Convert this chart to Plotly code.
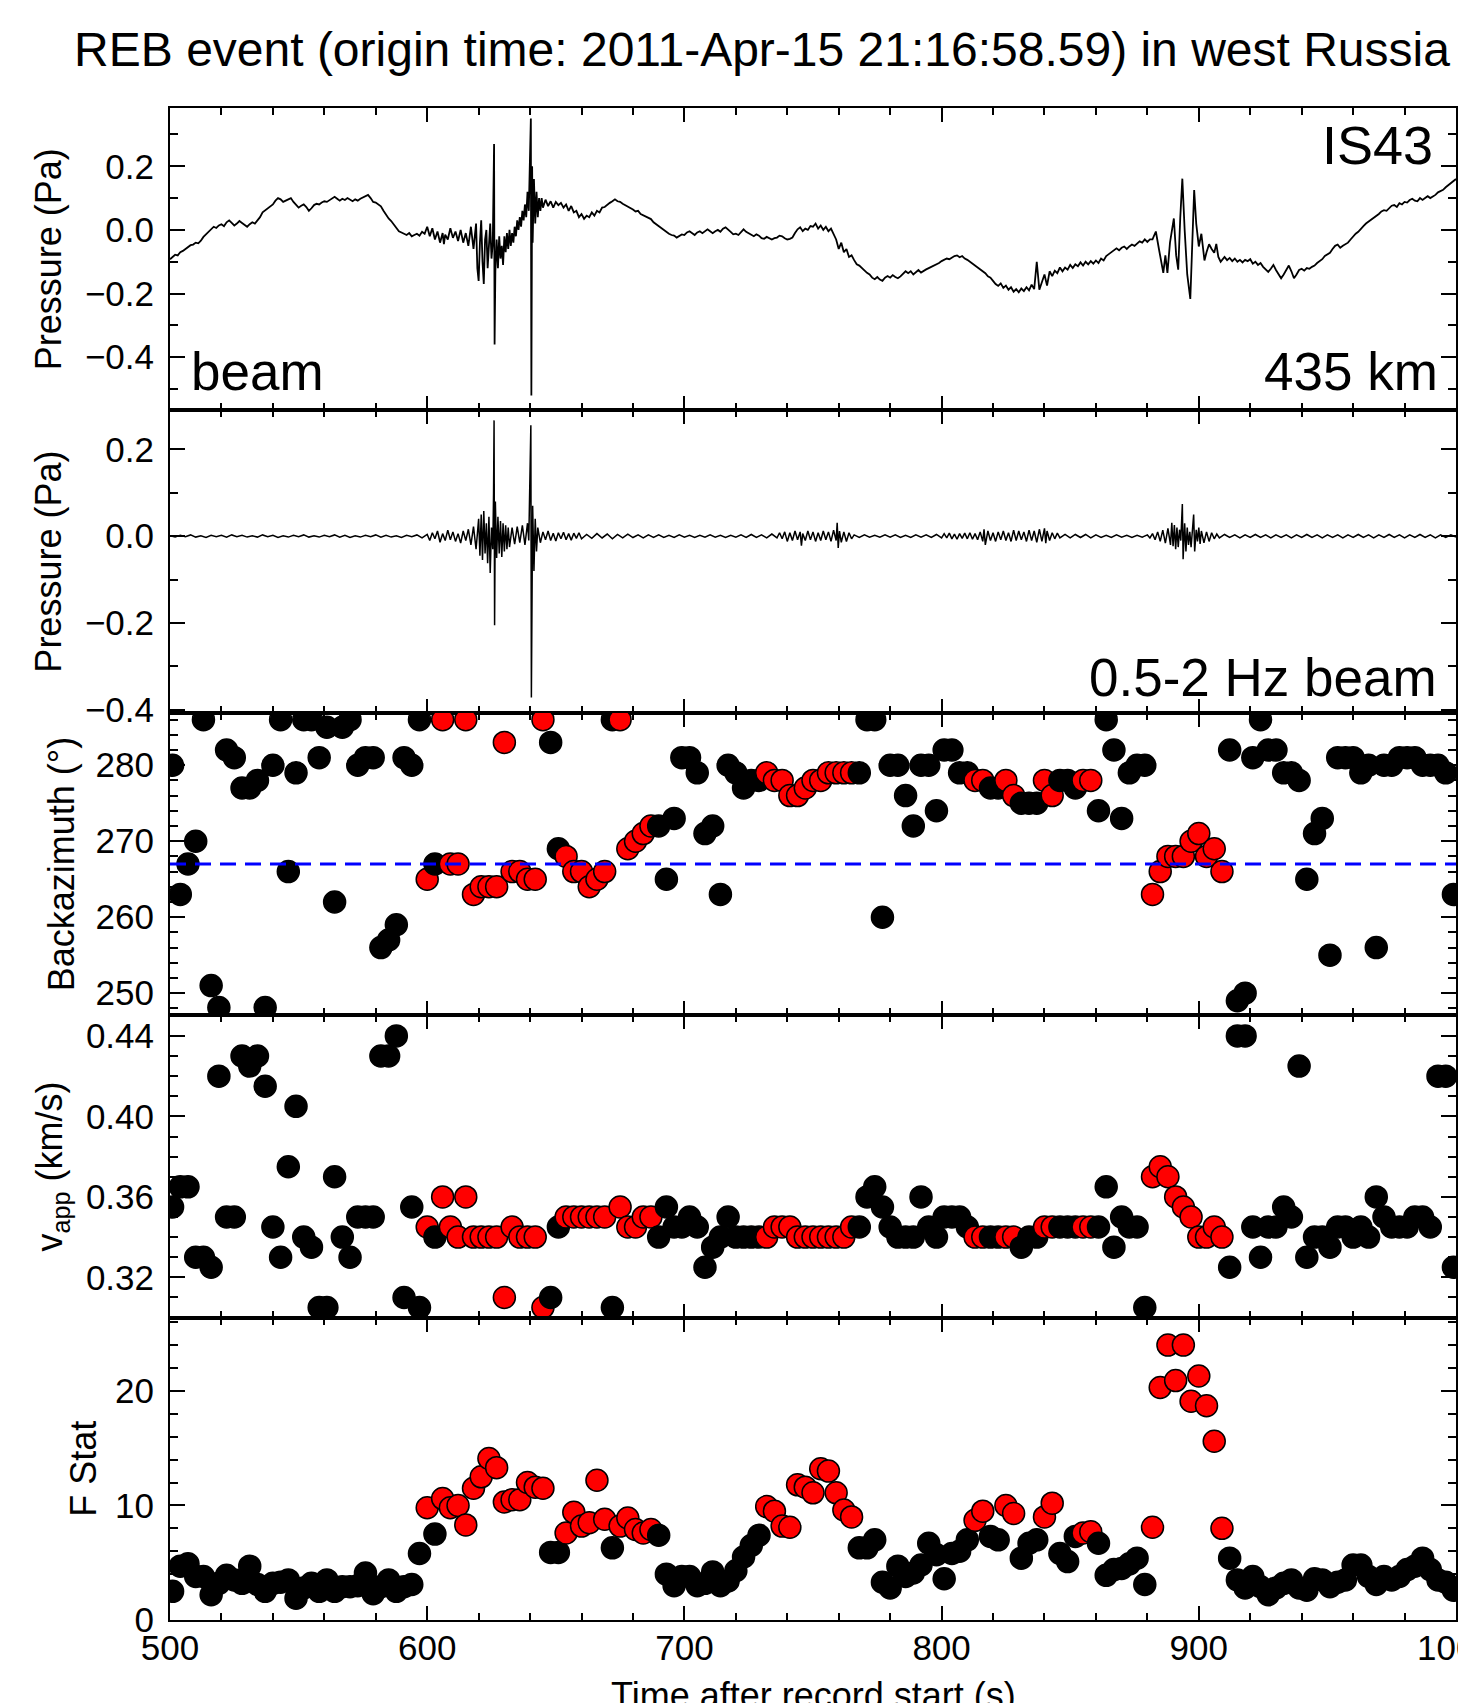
import plotly.graph_objects as go
from plotly.subplots import make_subplots

beam_t = [
    500, 501, 502, 503, 504, 505, 506, 507, 508, 509,
    510, 511, 512, 513, 514, 515, 516, 517, 518, 519,
    520, 521, 522, 523, 524, 525, 526, 527, 528, 529,
    530, 531, 532, 533, 534, 535, 536, 537, 538, 539,
    540, 541, 542, 543, 544, 545, 546, 547, 548, 549,
    550, 551, 552, 553, 554, 555, 556, 557, 558, 559,
    560, 561, 562, 563, 564, 565, 566, 567, 568, 569,
    570, 571, 572, 573, 574, 575, 576, 577, 578, 579,
    580, 581, 582, 583, 584, 585, 586, 587, 588, 589,
    590, 591, 592, 593, 594, 595, 596, 597, 598, 599, 600,
    601, 602, 603, 604, 605, 606, 606.5, 607, 608, 609, 610, 611, 612, 613,
    614, 615, 616, 617, 618, 619, 619.5, 620, 620.5, 621, 621.5, 622, 622.5,
    623, 623.5, 624, 624.5, 625, 625.5, 626, 626.2, 626.5, 627, 627.5, 628,
    628.5, 629, 629.5, 630, 630.5, 631, 631.5, 632, 632.5, 633, 633.5, 634,
    634.5, 635, 635.5, 636, 636.5, 637, 637.5, 638, 638.5, 639, 639.5, 640,
    640.3, 640.5, 640.8, 641, 641.5, 642, 642.5, 643, 643.5, 644, 644.5,
    645, 646, 647, 648, 649, 650, 651, 652, 653, 654,
    655, 656, 657, 658, 659, 660, 661, 662, 663, 664,
    665, 666, 667, 668, 669, 670, 671, 672, 673, 674,
    675, 676, 677, 678, 679, 680, 681, 682, 683, 684,
    685, 686, 687, 688, 689, 690, 691, 692, 693, 694,
    695, 696, 697, 698, 699, 700, 701, 702, 703, 704,
    705, 706, 707, 708, 709, 710, 711, 712, 713, 714,
    715, 716, 717, 718, 719,
    720, 721, 722, 723, 724, 725, 726, 727, 728, 729,
    730, 731, 732, 733, 734, 735, 736, 737, 738, 739,
    740, 741, 742, 743, 744, 745, 746, 747, 748, 749,
    750, 751, 752, 753, 754, 755, 756, 757, 758, 759,
    760, 761, 762, 763, 764, 765, 766, 767, 768, 769,
    770, 771, 772, 773, 774, 775, 776, 777, 778, 779,
    780, 781, 782, 783, 784, 785, 786, 787, 788, 789,
    790, 791, 792, 793, 794, 795, 796, 797, 798, 799,
    800, 801, 802, 803, 804, 805, 806, 807, 808, 809,
    810, 811, 812, 813, 814, 815, 816, 817, 818, 819,
    820, 821, 822, 823, 824, 825, 826, 827, 828, 829,
    830, 831, 832, 833, 834, 835, 836, 837, 838, 839,
    840, 841, 842, 843, 844, 845, 846, 847, 848, 849,
    850, 851, 852, 853, 854, 855, 856, 857, 858, 859,
    860, 861, 862, 863, 864, 865, 866, 867, 868, 869,
    870, 871, 872, 873, 874, 875, 876, 877, 878, 879,
    880, 881,
    882, 883.3, 884.5, 885.5, 886.2, 887, 887.8, 888.8, 889.6, 890.3, 891.2,
    892, 892.8, 893.6, 894.5, 895.5, 896.7, 897.5, 898.2, 899, 900, 901,
    902.2, 903, 904, 905, 906, 906.8, 907.6, 908.5, 909.5,
    910, 911, 912, 913, 914, 915, 916, 917, 918, 919,
    920, 921, 922, 923, 924, 925, 926, 927, 928, 929,
    930, 931, 932, 933, 934, 935, 936, 937, 938, 939,
    940, 941, 942, 943, 944, 945, 946, 947, 948, 949,
    950, 951, 952, 953, 954, 955, 956, 957, 958, 959,
    960, 961, 962, 963, 964, 965, 966, 967, 968, 969,
    970, 971, 972, 973, 974, 975, 976, 977, 978, 979,
    980, 981, 982, 983, 984, 985, 986, 987, 988, 989,
    990, 991, 992, 993, 994, 995, 996, 997, 998, 999, 1000,
]
beam_p = [
    -0.092, -0.085, -0.078, -0.080, -0.070, -0.066, -0.060, -0.052, -0.048, -0.046,
    -0.040, -0.042, -0.034, -0.022, -0.014, -0.004, 0.004, 0.010, 0.006, 0.014,
    0.018, 0.012, 0.024, 0.030, 0.022, 0.014, 0.020, 0.028, 0.022, 0.016,
    0.010, 0.018, 0.024, 0.020, 0.030, 0.040, 0.055, 0.062, 0.066, 0.074,
    0.080, 0.092, 0.100, 0.096, 0.088, 0.092, 0.096, 0.100, 0.088, 0.078,
    0.070, 0.076, 0.080, 0.072, 0.060, 0.068, 0.078, 0.082, 0.080, 0.086,
    0.090, 0.088, 0.094, 0.100, 0.104, 0.098, 0.092, 0.098, 0.094, 0.100,
    0.096, 0.090, 0.096, 0.092, 0.098, 0.102, 0.108, 0.110, 0.100, 0.088,
    0.086, 0.080, 0.074, 0.060, 0.046, 0.036, 0.028, 0.018, 0.008, -0.004,
    -0.008, -0.012, -0.016, -0.010, -0.020, -0.016, -0.012, -0.018, -0.006, -0.012, 0.010,
    -0.020, 0.005, -0.030, -0.005, -0.040, -0.010, -0.045, -0.015, -0.030, 0.005, -0.025, -0.005, -0.035, 0.000,
    -0.040, -0.010, -0.050, 0.010, -0.060, 0.020, -0.120, -0.160, -0.040, 0.030, -0.100, -0.170, -0.030,
    0.000, -0.120, -0.060, 0.020, -0.090, -0.040, 0.270, -0.360, -0.130, -0.030, -0.120, -0.020,
    -0.090, -0.050, -0.110, -0.020, -0.070, -0.010, -0.060, 0.000, -0.050, -0.010, -0.040, 0.010,
    -0.020, 0.030, 0.000, 0.040, 0.010, 0.060, 0.030, 0.080, 0.040, 0.120, 0.060, 0.210,
    0.350, -0.520, 0.200, -0.040, 0.160, 0.020, 0.120, 0.040, 0.100, 0.060, 0.100,
    0.070, 0.095, 0.075, 0.090, 0.070, 0.088, 0.078, 0.085, 0.070, 0.080,
    0.060, 0.075, 0.055, 0.060, 0.040, 0.050, 0.035, 0.045, 0.040, 0.055,
    0.045, 0.060, 0.055, 0.070, 0.072, 0.080, 0.085, 0.090, 0.096, 0.090,
    0.088, 0.082, 0.078, 0.072, 0.070, 0.064, 0.058, 0.060, 0.050, 0.046,
    0.040, 0.036, 0.034, 0.024, 0.018, 0.012, 0.006, -0.002, -0.006, -0.012,
    -0.016, -0.018, -0.024, -0.020, -0.014, -0.016, -0.008, -0.004, -0.010, -0.016,
    -0.008, -0.004, -0.010, -0.004, 0.002, -0.004, -0.010, -0.004, 0.000, -0.006,
    0.004, 0.008, 0.002, -0.006, -0.014,
    -0.012, -0.016, -0.008, 0.002, -0.006, -0.010, -0.016, -0.020, -0.014, -0.018,
    -0.026, -0.028, -0.022, -0.026, -0.030, -0.026, -0.024, -0.018, -0.020, -0.026,
    -0.030, -0.028, -0.024, -0.010, 0.002, 0.008, -0.004, 0.004, 0.000, 0.012,
    0.010, 0.020, 0.004, 0.014, 0.000, 0.010, -0.004, 0.004, -0.012, -0.030,
    -0.060, -0.040, -0.070, -0.060, -0.085, -0.080, -0.095, -0.108, -0.112, -0.120,
    -0.128, -0.135, -0.140, -0.150, -0.155, -0.148, -0.156, -0.160, -0.150, -0.145,
    -0.150, -0.142, -0.148, -0.152, -0.146, -0.138, -0.130, -0.136, -0.130, -0.140,
    -0.132, -0.126, -0.134, -0.128, -0.124, -0.120, -0.116, -0.114, -0.108, -0.104,
    -0.098, -0.094, -0.090, -0.092, -0.086, -0.082, -0.080, -0.086, -0.082, -0.090,
    -0.094, -0.100, -0.104, -0.110, -0.116, -0.124, -0.130, -0.136, -0.146, -0.150,
    -0.160, -0.170, -0.176, -0.168, -0.182, -0.175, -0.188, -0.180, -0.194, -0.186,
    -0.196, -0.184, -0.192, -0.180, -0.190, -0.172, -0.186, -0.100, -0.188, -0.160,
    -0.140, -0.175, -0.130, -0.145, -0.128, -0.136, -0.118, -0.130, -0.118, -0.125,
    -0.110, -0.120, -0.108, -0.114, -0.102, -0.112, -0.100, -0.108, -0.098, -0.106,
    -0.096, -0.104, -0.090, -0.096, -0.082, -0.076, -0.070, -0.064, -0.058, -0.064,
    -0.056, -0.052, -0.060, -0.052, -0.046, -0.050, -0.042, -0.036, -0.040, -0.030,
    -0.038, -0.030,
    -0.030, -0.005, -0.060, -0.100, -0.135, -0.080, -0.135, -0.040, 0.010, 0.036, -0.080,
    -0.125, 0.040, 0.161, 0.000, -0.140, -0.217, -0.030, 0.125, 0.020, -0.052, -0.012,
    -0.096, -0.070, -0.045, -0.060, -0.072, -0.044, -0.085, -0.100, -0.088,
    -0.085, -0.095, -0.088, -0.098, -0.090, -0.100, -0.094, -0.102, -0.094, -0.098,
    -0.092, -0.106, -0.100, -0.110, -0.104, -0.116, -0.124, -0.132, -0.122, -0.110,
    -0.126, -0.140, -0.152, -0.140, -0.124, -0.112, -0.130, -0.152, -0.140, -0.126,
    -0.122, -0.128, -0.120, -0.122, -0.116, -0.112, -0.104, -0.098, -0.092, -0.082,
    -0.076, -0.072, -0.060, -0.050, -0.046, -0.056, -0.050, -0.044, -0.040, -0.030,
    -0.020, -0.012, -0.006, 0.004, 0.012, 0.020, 0.026, 0.032, 0.038, 0.042,
    0.050, 0.058, 0.062, 0.060, 0.068, 0.076, 0.078, 0.072, 0.084, 0.080,
    0.088, 0.086, 0.094, 0.098, 0.092, 0.090, 0.100, 0.094, 0.100, 0.106,
    0.100, 0.104, 0.110, 0.118, 0.122, 0.126, 0.134, 0.140, 0.146, 0.152, 0.160,
]

# ---- second panel: 0.5-2 Hz filtered beam (Pa) ----
filt_t = [
    500, 502, 504, 506, 508, 510, 512, 514, 516, 518,
    520, 522, 524, 526, 528, 530, 532, 534, 536, 538,
    540, 542, 544, 546, 548, 550, 552, 554, 556, 558,
    560, 562, 564, 566, 568, 570, 572, 574, 576, 578,
    580, 582, 584, 586, 588, 590, 592, 594, 596, 598, 600,
    601, 602, 603, 604, 605, 606, 607, 608, 609, 610,
    611, 612, 613, 614, 615, 616, 617, 618, 619, 620,
    620.5, 621, 621.5, 622, 622.5, 623, 623.5, 624, 624.5, 625, 625.5, 625.8,
    626, 626.2, 626.5, 627, 627.5, 628, 628.5, 629, 629.5, 630, 630.5, 631,
    631.5, 632, 633, 634, 635, 636, 637, 638, 639, 639.5, 640, 640.3, 640.5,
    640.8, 641, 641.5, 642, 642.5, 643, 644,
    645, 646, 647, 648, 649, 650, 651, 652, 653, 654, 655, 656, 657, 658, 659, 660,
    662, 664, 666, 668, 670, 672, 674, 676, 678, 680,
    682, 684, 686, 688, 690, 692, 694, 696, 698, 700,
    702, 704, 706, 708, 710, 712, 714, 716, 718, 720,
    722, 724, 726, 728, 730, 732, 734, 736,
    737, 738, 739, 740, 741, 742, 743, 744, 745, 745.5,
    746, 747, 748, 749, 750, 751, 752, 753, 754, 755, 756, 757, 758, 759,
    759.4, 759.8, 760.3, 761, 762, 763, 764, 765,
    766, 768, 770, 772, 774, 776, 778, 780, 782, 784,
    786, 788, 790, 792, 794, 796, 798, 800,
    801, 802, 803, 804, 805, 806, 807, 808, 809, 810, 811, 812, 813, 814, 815, 816,
    816.5, 817, 818, 819, 820, 821, 822, 823, 824, 825, 826, 827, 828, 829,
    830, 831, 832, 833, 834, 835, 836, 837, 838, 839, 840, 840.5,
    841, 842, 843, 844, 845,
    846, 848, 850, 852, 854, 856, 858, 860, 862, 864,
    866, 868, 870, 872, 874, 876, 878, 880,
    881, 882, 883, 884, 885, 886, 887, 888, 889, 889.5, 890, 890.5, 891, 891.5,
    892, 892.5, 893, 893.6, 893.9, 894.5, 895, 895.5, 896, 896.5, 897, 897.5,
    898, 898.4, 899, 899.5, 900, 900.5, 901, 902, 903, 904, 905, 906, 907, 908, 910,
    912, 914, 916, 918, 920, 922, 924, 926, 928, 930,
    932, 934, 936, 938, 940, 942, 944, 946, 948, 950,
    952, 954, 956, 958, 960, 962, 964, 966, 968, 970,
    972, 974, 976, 978, 980, 982, 984, 986, 988, 990,
    992, 994, 996, 998, 1000,
]
filt_p = [
    0.001, -0.002, 0.002, -0.001, 0.003, -0.002, 0.001, -0.003, 0.002, -0.001,
    0.002, -0.002, 0.003, -0.001, 0.002, -0.002, 0.001, -0.002, 0.003, -0.001,
    0.002, -0.003, 0.001, -0.002, 0.002, -0.001, 0.003, -0.002, 0.001, -0.002,
    0.002, -0.001, 0.003, -0.002, 0.002, -0.003, 0.001, -0.002, 0.002, -0.001,
    0.003, -0.002, 0.002, -0.002, 0.001, -0.003, 0.002, -0.001, 0.003, -0.004, 0.004,
    -0.010, 0.008, -0.006, 0.012, -0.014, 0.006, -0.010, 0.014, -0.008, 0.010,
    -0.012, 0.006, -0.016, 0.012, -0.010, 0.016, -0.020, 0.022, -0.030, 0.040,
    -0.045, 0.050, -0.055, 0.058, -0.040, 0.030, -0.062, 0.045, -0.085, 0.020, -0.030, 0.100,
    0.267, -0.205, 0.080, -0.050, 0.045, -0.040, 0.035, -0.048, 0.030, -0.035, 0.025, -0.030,
    0.020, -0.025, 0.020, -0.018, 0.022, -0.015, 0.025, -0.020, 0.030, -0.010, 0.200, 0.256, -0.372,
    -0.020, 0.070, -0.080, 0.040, -0.035, 0.020, -0.015,
    0.010, -0.008, 0.012, -0.010, 0.007, -0.011, 0.008, -0.006, 0.009, -0.008, 0.006, -0.009, 0.007, -0.005, 0.008, -0.006,
    0.004, -0.005, 0.006, -0.004, 0.005, -0.006, 0.004, -0.004, 0.005, -0.003,
    0.003, -0.004, 0.003, -0.003, 0.003, -0.003, 0.002, -0.003, 0.003, -0.002,
    0.002, -0.003, 0.002, -0.002, 0.003, -0.002, 0.002, -0.003, 0.002, -0.002,
    0.003, -0.003, 0.004, -0.003, 0.003, -0.004, 0.005, -0.004,
    0.008, -0.006, 0.010, -0.012, 0.008, -0.010, 0.012, -0.008, 0.010, -0.022,
    0.006, -0.010, 0.012, -0.008, 0.010, -0.012, 0.008, -0.010, 0.012, -0.008, 0.010, -0.012, 0.014, -0.010,
    0.031, -0.027, 0.012, -0.014, 0.010, -0.012, 0.008, -0.006,
    0.003, -0.003, 0.003, -0.002, 0.002, -0.002, 0.003, -0.002, 0.003, -0.003,
    0.002, -0.003, 0.003, -0.002, 0.003, -0.003, 0.004, -0.004,
    0.006, -0.004, 0.007, -0.006, 0.005, -0.007, 0.006, -0.005, 0.007, -0.006, 0.008, -0.007, 0.006, -0.008, 0.010, -0.012,
    0.016, -0.020, 0.012, -0.010, 0.008, -0.012, 0.010, -0.008, 0.012, -0.010, 0.008, -0.012, 0.014, -0.010,
    0.012, -0.008, 0.010, -0.012, 0.014, -0.010, 0.012, -0.014, 0.016, -0.012, 0.018, -0.016,
    0.012, -0.010, 0.008, -0.006, 0.007,
    -0.004, 0.004, -0.004, 0.004, -0.003, 0.004, -0.004, 0.003, -0.003, 0.002,
    -0.003, 0.003, -0.002, 0.002, -0.003, 0.002, -0.002, 0.003,
    -0.004, 0.006, -0.008, 0.010, -0.012, 0.014, -0.016, 0.018, -0.020, 0.031, -0.023, 0.026, -0.030, 0.020,
    -0.025, 0.015, -0.010, 0.074, -0.053, 0.030, -0.035, 0.020, -0.020, 0.010, -0.025, 0.015,
    0.050, -0.035, 0.015, -0.012, 0.020, -0.018, 0.012, -0.015, 0.010, -0.012, 0.008, -0.006, 0.005, -0.004, 0.004,
    -0.003, 0.003, -0.004, 0.003, -0.003, 0.004, -0.003, 0.003, -0.004, 0.003,
    -0.003, 0.003, -0.004, 0.003, -0.003, 0.004, -0.003, 0.003, -0.004, 0.003,
    -0.003, 0.003, -0.004, 0.003, -0.003, 0.004, -0.003, 0.003, -0.004, 0.003,
    -0.003, 0.004, -0.003, 0.003, -0.004, 0.003, -0.003, 0.004, -0.003, 0.003,
    -0.004, 0.003, -0.003, 0.003, -0.002,
]

# ---- array processing results, one value per 3 s window ----
win_t = [
    501, 504, 507, 510, 513, 516, 519, 522, 525, 528,
    531, 534, 537, 540, 543, 546, 549, 552, 555, 558,
    561, 564, 567, 570, 573, 576, 579, 582, 585, 588,
    591, 594, 597, 600, 603, 606, 609, 612, 615, 618,
    621, 624, 627, 630, 633, 636, 639, 642, 645, 648,
    651, 654, 657, 660, 663, 666, 669, 672, 675, 678,
    681, 684, 687, 690, 693, 696, 699, 702, 705, 708,
    711, 714, 717, 720, 723, 726, 729, 732, 735, 738,
    741, 744, 747, 750, 753, 756, 759, 762, 765, 768,
    771, 774, 777, 780, 783, 786, 789, 792, 795, 798,
    801, 804, 807, 810, 813, 816, 819, 822, 825, 828,
    831, 834, 837, 840, 843, 846, 849, 852, 855, 858,
    861, 864, 867, 870, 873, 876, 879, 882, 885, 888,
    891, 894, 897, 900, 903, 906, 909, 912, 915, 918,
    921, 924, 927, 930, 933, 936, 939, 942, 945, 948,
    951, 954, 957, 960, 963, 966, 969, 972, 975, 978,
    981, 984, 987, 990, 993, 996, 999,
]
backazimuth = [
    280, 263, 267, 270, 286, 251, 248.1, 282, 281, 277,
    277, 278, 248.1, 280, 286, 266, 279, 286, 286, 281,
    285, 262, 285, 286, 280, 281, 281, 256, 257, 259,
    281, 280, 286, 265, 267, 286, 267, 267, 286, 263,
    264, 264, 264, 283, 266, 266, 265, 265, 286, 283,
    269, 268, 266, 266, 264, 265, 266, 286, 286, 269,
    270, 271, 272, 272, 265, 273, 281, 281, 279, 271,
    272, 263, 280, 279, 277, 278, 278, 279, 278, 278,
    276, 276, 277, 278, 278, 279, 279, 279, 279, 279,
    286, 286, 260, 280, 280, 276, 272, 280, 280, 274,
    282, 282, 279, 279, 278, 278, 277, 277, 278, 276,
    275, 275, 275, 278, 276, 278, 278, 277, 278, 278,
    274, 286, 282, 273, 279, 280, 280, 263, 266, 268,
    268, 268, 270, 271, 268, 269, 266, 282, 249, 250,
    281, 286, 282, 282, 279, 279, 278, 265, 271, 273,
    255, 281, 281, 281, 279, 280, 256, 280, 280, 281,
    281, 281, 280, 280, 280, 279, 263,
]
v_app = [
    0.355, 0.365, 0.365, 0.330, 0.330, 0.325, 0.420, 0.350, 0.350, 0.430,
    0.425, 0.430, 0.415, 0.345, 0.330, 0.375, 0.405, 0.340, 0.335, 0.305,
    0.305, 0.370, 0.340, 0.330, 0.350, 0.350, 0.350, 0.430, 0.430, 0.440,
    0.310, 0.355, 0.305, 0.345, 0.340, 0.360, 0.345, 0.340, 0.360, 0.340,
    0.340, 0.340, 0.340, 0.310, 0.345, 0.340, 0.340, 0.340, 0.305, 0.310,
    0.345, 0.350, 0.350, 0.350, 0.350, 0.350, 0.350, 0.305, 0.355, 0.345,
    0.345, 0.350, 0.350, 0.340, 0.355, 0.345, 0.345, 0.350, 0.345, 0.325,
    0.335, 0.340, 0.350, 0.340, 0.340, 0.340, 0.340, 0.340, 0.345, 0.345,
    0.345, 0.340, 0.340, 0.340, 0.340, 0.340, 0.340, 0.340, 0.345, 0.345,
    0.360, 0.365, 0.355, 0.345, 0.340, 0.340, 0.340, 0.360, 0.345, 0.340,
    0.350, 0.350, 0.350, 0.345, 0.340, 0.340, 0.340, 0.340, 0.340, 0.340,
    0.335, 0.340, 0.340, 0.345, 0.345, 0.345, 0.345, 0.345, 0.345, 0.345,
    0.345, 0.365, 0.335, 0.350, 0.345, 0.345, 0.305, 0.370, 0.375, 0.370,
    0.360, 0.355, 0.350, 0.340, 0.340, 0.345, 0.340, 0.325, 0.440, 0.440,
    0.345, 0.330, 0.345, 0.345, 0.355, 0.350, 0.425, 0.330, 0.340, 0.340,
    0.335, 0.345, 0.345, 0.340, 0.345, 0.340, 0.360, 0.350, 0.345, 0.345,
    0.345, 0.350, 0.350, 0.345, 0.420, 0.420, 0.325,
]
f_stat = [
    2.5, 4.7, 4.9, 3.8, 3.8, 2.2, 3.2, 3.9, 3.5, 3.2,
    4.7, 3.1, 2.5, 3.2, 3.3, 3.5, 1.9, 2.8, 3.2, 2.5,
    3.5, 2.5, 2.9, 2.9, 3.0, 4.1, 2.3, 2.9, 3.5, 2.5,
    2.9, 3.1, 5.8, 9.8, 7.5, 10.6, 9.8, 10.0, 8.3, 11.5,
    12.5, 14.1, 13.3, 10.3, 10.5, 10.5, 12.0, 11.6, 11.5, 5.9,
    5.9, 7.6, 9.4, 8.2, 8.5, 12.2, 8.8, 6.3, 8.2, 8.9,
    7.9, 7.6, 7.9, 7.4, 4.0, 3.0, 3.8, 3.8, 3.0, 3.2,
    4.2, 3.0, 3.4, 4.3, 5.5, 6.5, 7.4, 9.9, 9.5, 8.2,
    8.1, 11.8, 11.6, 11.1, 13.2, 13.0, 11.1, 9.6, 9.0, 6.3,
    6.3, 7.0, 3.3, 2.8, 4.7, 3.8, 4.1, 4.8, 6.7, 5.7,
    3.6, 5.8, 6.0, 7.0, 8.7, 9.5, 7.3, 7.0, 10.0, 9.3,
    5.4, 6.7, 7.0, 9.0, 10.2, 5.8, 5.1, 7.3, 7.6, 7.7,
    6.7, 3.9, 4.4, 4.5, 4.9, 5.4, 3.1, 8.1, 20.3, 24.0,
    20.9, 24.0, 19.1, 21.3, 18.7, 15.6, 8.0, 5.4, 3.5, 2.8,
    3.8, 2.9, 2.2, 2.8, 3.2, 3.5, 2.8, 2.6, 3.6, 3.5,
    2.9, 3.3, 3.5, 4.8, 4.8, 3.8, 3.1, 3.8, 3.5, 3.8,
    4.4, 4.7, 5.4, 4.4, 3.5, 3.3, 2.6,
]
# windows flagged as detections (drawn red)
detect_t = [
    600, 606, 609, 612, 615, 618, 621, 624, 627, 630, 633, 636, 639, 642, 645,
    654, 657, 660, 663, 666, 669, 675, 678, 681, 684, 687,
    732, 735, 738, 741, 744, 747, 750, 753, 756, 759, 762, 765,
    813, 816, 825, 828, 840, 843, 855, 858,
    882, 885, 888, 891, 894, 897, 900, 903, 906, 909,
]
baz_expected = 267  # great-circle back azimuth to the REB event

assert len(beam_t) == len(beam_p)
assert len(filt_t) == len(filt_p)
assert len(win_t) == len(backazimuth) == len(v_app) == len(f_stat)

W, H = 1466, 1703
OFF = 8  # page body margin
ML, MR, MT, MB = 170 - OFF, 18, 108 - OFF, 91
FONT = "Liberation Sans, Arial, Helvetica, sans-serif"


def xp(px):
    return (px - OFF - ML) / (W - ML - MR)


def yp(py):
    return (H - MB - (py - OFF)) / (H - MT - MB)


fig = make_subplots(rows=5, cols=1, shared_xaxes=True, vertical_spacing=0)

fig.add_trace(go.Scatter(x=beam_t, y=beam_p, mode="lines",
                         line=dict(color="black", width=1.8)), row=1, col=1)
fig.add_trace(go.Scatter(x=filt_t, y=filt_p, mode="lines",
                         line=dict(color="black", width=1.5)), row=2, col=1)

dset = set(detect_t)
colors = ["red" if t in dset else "black" for t in win_t]
for row, vals in [(3, backazimuth), (4, v_app), (5, f_stat)]:
    fig.add_trace(go.Scatter(x=win_t, y=vals, mode="markers",
                             marker=dict(size=22, color=colors,
                                         line=dict(color="black", width=1.5))),
                  row=row, col=1)

fig.add_trace(go.Scatter(x=[500, 1000], y=[baz_expected, baz_expected], mode="lines",
                         line=dict(color="blue", width=3, dash="16px,9px")),
              row=3, col=1)

common = dict(showline=True, linecolor="black", linewidth=2, mirror="allticks",
              ticks="inside", tickcolor="black", tickwidth=2, showgrid=False,
              zeroline=False, automargin=False,
              tickfont=dict(size=35, family=FONT, color="black"))

fig.update_xaxes(range=[500, 1000], tick0=500, dtick=100, ticklen=14,
                 minor=dict(ticks="inside", dtick=20, ticklen=7,
                            tickcolor="black", tickwidth=1.5),
                 **common)
fig.update_xaxes(row=5, col=1, showticklabels=True, ticklabelstandoff=-4,
                 ticklabeloverflow="allow")

fig.update_yaxes(ticklen=15, ticklabelstandoff=7, **common)
ytitle_font = dict(size=36, family=FONT, color="black")
minor_y = dict(ticks="inside", ticklen=8, tickcolor="black", tickwidth=1.5)
fig.update_yaxes(row=1, col=1, range=[-0.567, 0.383], tick0=0, dtick=0.2, tickformat=".1f",
                 minor=dict(dtick=0.1, **minor_y),
                 title=dict(text="Pressure (Pa)", font=ytitle_font, standoff=12))
fig.update_yaxes(row=2, col=1, range=[-0.407, 0.29], tick0=0, dtick=0.2, tickformat=".1f",
                 minor=dict(dtick=0.1, **minor_y),
                 title=dict(text="Pressure (Pa)", font=ytitle_font, standoff=12))
fig.update_yaxes(row=3, col=1, range=[247.1, 286.9], tick0=250, dtick=10,
                 minor=dict(dtick=2, **minor_y),
                 title=dict(text="Backazimuth (°)", font=ytitle_font, standoff=10))
fig.update_yaxes(row=4, col=1, range=[0.300, 0.4503], tick0=0.32, dtick=0.04, tickformat=".2f",
                 minor=dict(dtick=0.01, **minor_y),
                 title=dict(text="v<sub>app</sub> (km/s)", font=ytitle_font, standoff=12))
fig.update_yaxes(row=5, col=1, range=[0, 26.4], tick0=0, dtick=10,
                 minor=dict(dtick=2, **minor_y),
                 title=dict(text="F Stat", font=ytitle_font, standoff=7))

labels = [
    ("IS43", 1435, 144.5, "right", 54),
    ("435 km", 1440, 371.5, "right", 53),
    ("beam", 189, 371.5, "left", 53),
    ("0.5-2 Hz beam", 1439, 677.5, "right", 53),
]
for text, px, py, anchor, size in labels:
    fig.add_annotation(text=text, x=xp(px), y=yp(py), xref="paper", yref="paper",
                       xanchor=anchor, yanchor="middle", showarrow=False,
                       font=dict(size=size, family=FONT, color="black"))

# x-axis title sits partly below the page edge, as in the original figure
fig.add_annotation(text="Time after record start (s)", x=xp(813), y=yp(1695),
                   xref="paper", yref="paper", xanchor="center", yanchor="middle",
                   showarrow=False, font=dict(size=36, family=FONT, color="black"))

fig.update_layout(
    width=W, height=H,
    margin=dict(l=ML, r=MR, t=MT, b=MB),
    paper_bgcolor="white", plot_bgcolor="white",
    showlegend=False,
    font=dict(family=FONT, color="black"),
    title=dict(text="REB event (origin time: 2011-Apr-15 21:16:58.59) in west Russia",
               x=(762 - OFF) / W, xanchor="center", xref="container",
               y=1 - (49.5 - OFF) / H, yanchor="middle", yref="container",
               font=dict(size=48, family=FONT, color="black")),
)

fig.write_html("out.html")
